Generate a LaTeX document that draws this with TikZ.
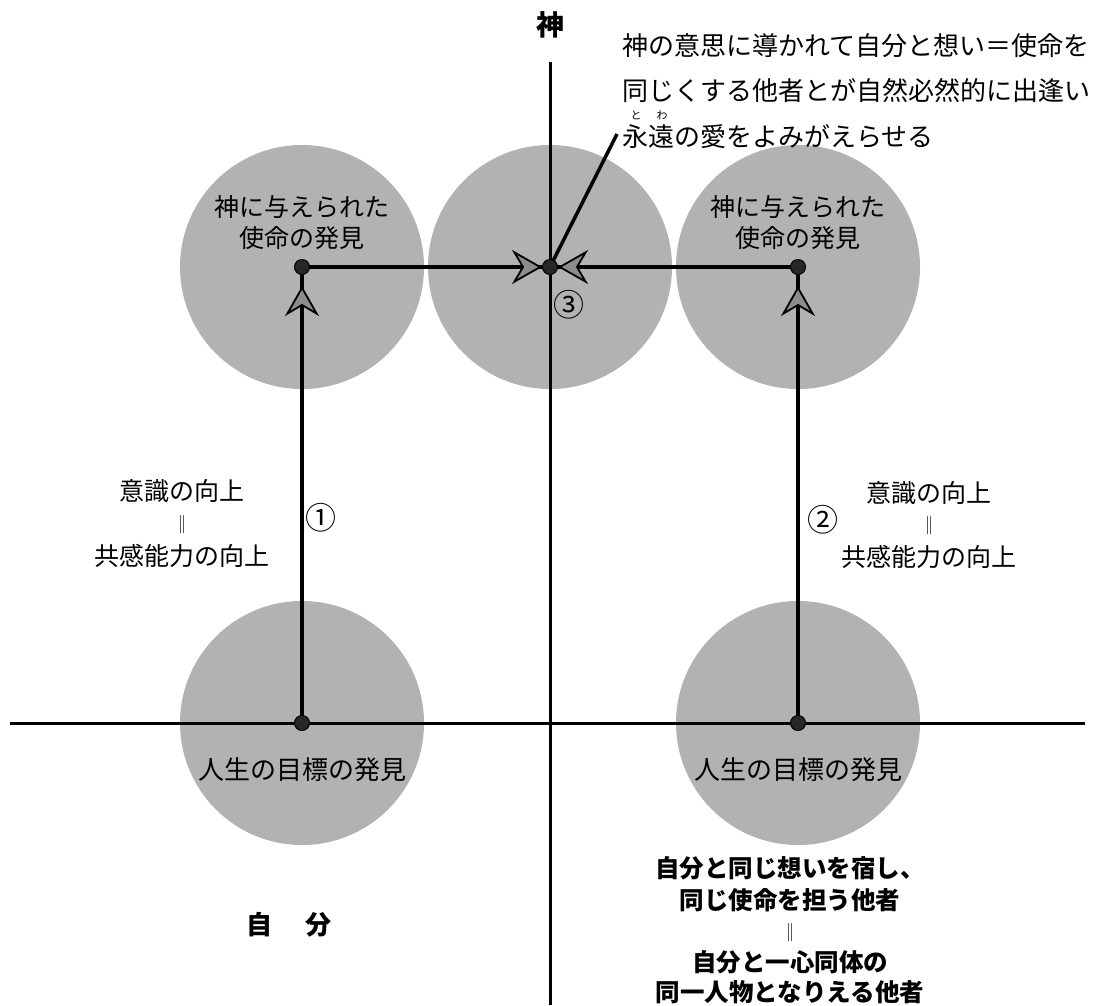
\documentclass[tikz,border=0pt]{standalone}
\usepackage{fontspec}
\newfontfamily\jp{Noto Sans CJK JP}
\usetikzlibrary{arrows.meta}
\tikzset{
  disc/.style={circle, fill=black!30, minimum size=244pt, inner sep=0pt},
  dotnode/.style={circle, fill=black!85, draw=black, line width=1pt, minimum size=15pt, inner sep=0pt},
  ax/.style={line width=3pt, black},
  conn/.style={line width=3.5pt, black},
  tipd/.style={-{Stealth[length=30pt,width=34pt,inset=10pt,fill=black!45,line width=1.8pt]}, line width=3.5pt},
  lbl/.style={font={\jp\fontsize{25}{30}\selectfont}, align=center, inner sep=0pt},
  big/.style={font={\jp\bfseries\fontsize{25}{30}\selectfont}, align=center, inner sep=0pt},
  ruby/.style={font={\jp\fontsize{11}{12}\selectfont}, inner sep=0pt},
  num/.style={font={\jp\fontsize{31}{32}\selectfont}, inner sep=0pt}
}
\begin{document}
\begin{tikzpicture}[x=1pt,y=-1pt]
\useasboundingbox (0,0) rectangle (1101,1005);
% discs
\node[disc] (cL) at (302,267) {};
\node[disc] (cM) at (550,267) {};
\node[disc] (cR) at (798,267) {};
\node[disc] (bL) at (302,723) {};
\node[disc] (bR) at (798,723) {};
% axes
\coordinate (axL) at (10,723);
\coordinate (axR) at (1085,723);
\coordinate (axT) at (550,62);
\coordinate (axB) at (550,1005);
\draw[ax] (axL) -- (axR);
\draw[ax] (axT) -- (axB);
% dots (coordinates)
\coordinate (pL) at (302,267);
\coordinate (pM) at (550,267);
\coordinate (pR) at (798,267);
\coordinate (qL) at (302,723);
\coordinate (qR) at (798,723);
% connectors
\draw[conn] (qL) -- (pL);
\draw[conn] (qR) -- (pR);
\draw[conn] (pL) -- (pM);
\draw[conn] (pR) -- (pM);
\draw[tipd, shorten >=19pt] (qL) -- (pL);
\draw[tipd, shorten >=19pt] (qR) -- (pR);
\draw[tipd, shorten >=8pt] (pL) -- (pM);
\draw[tipd, shorten >=8pt] (pR) -- (pM);
\coordinate (callend) at (617,134);
\draw[conn] (pM) -- (callend);
\node[dotnode] (dL) at (pL) {};
\node[dotnode] (dM) at (pM) {};
\node[dotnode] (dR) at (pR) {};
\node[dotnode] (eL) at (qL) {};
\node[dotnode] (eR) at (qR) {};
% top label
\node[big, font={\jp\bfseries\fontsize{28}{30}\selectfont}] (kami) at (550,25) {神};
% callout
\node[lbl, font={\jp\fontsize{26}{30}\selectfont}, anchor=west] (t1) at (622,46) {神の意思に導かれて自分と想い＝使命を};
\node[lbl, font={\jp\fontsize{26}{30}\selectfont}, anchor=west] (t2) at (622,91) {同じくする他者とが自然必然的に出逢い};
\node[lbl, font={\jp\fontsize{26}{30}\selectfont}, anchor=west] (t3) at (622,137) {永遠の愛をよみがえらせる};
\node[ruby] (r1) at (636,115) {と};
\node[ruby] (r2) at (662,115) {わ};
% circle labels
\node[lbl] (cLa) at (302,207) {神に与えられた};
\node[lbl] (cLb) at (302,238) {使命の発見};
\node[lbl] (cRa) at (798,207) {神に与えられた};
\node[lbl] (cRb) at (798,238) {使命の発見};
\node[lbl, font={\jp\fontsize{26}{30}\selectfont}] (bLa) at (302,770) {人生の目標の発見};
\node[lbl, font={\jp\fontsize{26}{30}\selectfont}] (bRa) at (798,770) {人生の目標の発見};
% numbers
\node[num] (n3) at (569,305) {③};
\node[num] (n1) at (321,518) {①};
\node[num] (n2) at (823,520) {②};
% side labels
\node[lbl] (l1) at (182,491) {意識の向上};
\node[lbl, font={\jp\fontsize{18}{20}\selectfont}] (l2) at (182,525) {‖};
\node[lbl] (l3) at (182,556) {共感能力の向上};
\node[lbl] (r1a) at (929,493) {意識の向上};
\node[lbl, font={\jp\fontsize{18}{20}\selectfont}] (r2a) at (929,526) {‖};
\node[lbl] (r3a) at (929,557) {共感能力の向上};
% self
\node[big, font={\jp\bfseries\fontsize{26}{30}\selectfont}] (ji) at (259,925) {自};
\node[big, font={\jp\bfseries\fontsize{26}{30}\selectfont}] (bun) at (318,925) {分};
% bottom text
\node[big, font={\jp\bfseries\fontsize{24.5}{30}\selectfont}] (o1) at (790,868) {自分と同じ想いを宿し、};
\node[big, font={\jp\bfseries\fontsize{24.5}{30}\selectfont}] (o2) at (790,900) {同じ使命を担う他者};
\node[lbl, font={\jp\fontsize{18}{20}\selectfont}] (o3) at (790,933) {‖};
\node[big, font={\jp\bfseries\fontsize{24.5}{30}\selectfont}] (o4) at (790,962) {自分と一心同体の};
\node[big, font={\jp\bfseries\fontsize{24.5}{30}\selectfont}] (o5) at (790,992) {同一人物となりえる他者};
\end{tikzpicture}
\end{document}
